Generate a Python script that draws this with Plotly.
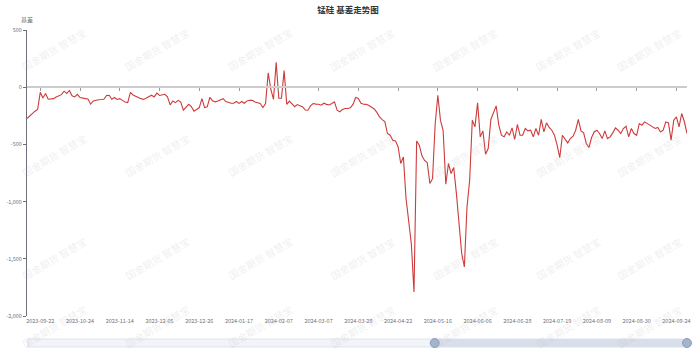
import pandas as pd
import plotly.graph_objects as go

# ---------------- data ----------------
start_date = "2023-09-15"
end_date = "2024-09-30"
holidays = ["2023-09-29", "2023-10-02", "2023-10-03", "2023-10-04", "2023-10-05", "2023-10-06",
            "2023-10-09",  # missing day in the source data
            "2024-01-01", "2024-02-09", "2024-02-12", "2024-02-13", "2024-02-14", "2024-02-15",
            "2024-02-16", "2024-04-04", "2024-04-05", "2024-05-01", "2024-05-02", "2024-05-03",
            "2024-06-10", "2024-09-16", "2024-09-17"]
dates = [d.strftime("%Y-%m-%d") for d in pd.bdate_range(start_date, end_date)
         if d.strftime("%Y-%m-%d") not in holidays]

basis = [
    -274, -250, -230, -210, -195, -45, -95, -55, -105, -105,
    -100, -85, -75, -65, -35, -55, -28, -75, -85, -62,
    -90, -98, -100, -103, -148, -120, -112, -110, -108, -105,
    -72, -70, -105, -90, -107, -100, -115, -130, -134, -45,
    -68, -80, -90, -100, -107, -95, -82, -70, -85, -52,
    -72, -67, -62, -85, -155, -120, -135, -115, -130, -200,
    -170, -150, -170, -210, -195, -178, -100, -178, -172, -88,
    -118, -128, -120, -112, -100, -125, -133, -140, -140, -125,
    -142, -125, -140, -120, -114, -115, -130, -137, -143, -178,
    -143, 125, -20, -107, 218, -97, -97, 145, -150, -122,
    -143, -170, -152, -165, -172, -200, -201, -160, -143, -148,
    -149, -157, -140, -150, -155, -143, -128, -200, -216, -195,
    -186, -186, -180, -150, -90, -99, -140, -149, -150, -160,
    -172, -190, -220, -260, -283, -300, -405, -420, -463, -469,
    -520, -667, -610, -973, -1170, -1370, -1790, -470, -507, -600,
    -640, -660, -842, -800, -320, -70, -290, -380, -848, -667,
    -755, -702, -930, -1221, -1454, -1571, -1046, -813, -288, -347,
    -137, -434, -382, -586, -536, -282, -230, -163, -332, -420,
    -434, -391, -420, -356, -457, -326, -420, -420, -361, -382,
    -376, -434, -361, -420, -282, -391, -312, -352, -376, -420,
    -507, -615, -420, -449, -487, -449, -428, -376, -282, -382,
    -399, -492, -527, -440, -391, -376, -405, -449, -382, -449,
    -434, -399, -356, -376, -405, -361, -341, -434, -361, -405,
    -420, -318, -332, -303, -318, -332, -347, -361, -352, -391,
    -376, -303, -312, -463, -288, -260, -347, -230, -300, -405,
]

x_tick_labels = ["2023-09-22", "2023-10-24", "2023-11-14", "2023-12-05", "2023-12-26",
                 "2024-01-17", "2024-02-07", "2024-03-07", "2024-03-28", "2024-04-22",
                 "2024-05-16", "2024-06-06", "2024-06-28", "2024-07-19", "2024-08-09",
                 "2024-08-30", "2024-09-24"]
y_tick_values = [-2000, -1500, -1000, -500, 0, 500]
y_tick_labels = ["-2,000", "-1,500", "-1,000", "-500", "0", "500"]

title_text = "锰硅 基差走势图"
y_name = "基差"
watermark = "国金期货 智慧宝"

# ---------------- layout helpers ----------------
W, H = 696, 352
L, R, T, B = 23, 6, 30, 36
PW, PH = W - L - R, H - T - B
FONT = "Noto Sans CJK SC, Noto Sans, sans-serif"


def px(xp):
    return (xp - L) / PW


def py(yp):
    return (H - B - yp) / PH


n = min(len(dates), len(basis))
dates = dates[:n]
basis = basis[:n]

fig = go.Figure()
fig.add_trace(go.Scatter(x=dates, y=basis, mode="lines",
                         line=dict(color="#cf3a3a", width=1.1),
                         showlegend=False, hoverinfo="x+y"))
# helper trace to carry the zero axis line with ticks
fig.add_trace(go.Scatter(x=dates, y=[None] * n, mode="lines", xaxis="x2",
                         showlegend=False, hoverinfo="skip"))

annotations = []
annotations.append(dict(text=y_name, x=0, y=py(20), xref="paper", yref="paper",
                        showarrow=False, xanchor="center", yanchor="middle",
                        font=dict(size=6, color="#6E7079", family=FONT)))
# watermarks (kept fully inside the canvas)
wm_rows = [50, 155, 258, 326]
wm_cols = [50, 154, 258, 362, 466, 570, 652]
for ry in wm_rows:
    for cx in wm_cols:
        annotations.append(dict(text=watermark, x=px(cx), y=py(ry), xref="paper", yref="paper",
                                showarrow=False, textangle=-30, xanchor="center", yanchor="middle",
                                font=dict(size=10, color="rgba(170,170,170,0.2)", family=FONT)))

shapes = []
# data zoom slider
shapes.append(dict(type="rect", xref="paper", yref="paper", x0=px(24), x1=px(690),
                   y0=py(347), y1=py(339), fillcolor="#f2f4f8",
                   line=dict(color="#dde3ee", width=1), layer="below"))
shapes.append(dict(type="rect", xref="paper", yref="paper", x0=px(435), x1=px(690),
                   y0=py(347), y1=py(339), fillcolor="#d8dfeb",
                   line=dict(width=0)))
for hx in [435, 690]:
    shapes.append(dict(type="circle", xref="paper", yref="paper",
                       x0=px(hx - 4.5), x1=px(hx + 4.5), y0=py(343 + 4.5), y1=py(343 - 4.5),
                       fillcolor="#a5b4cc", line=dict(color="#8b9dba", width=1)))

fig.update_layout(
    width=W, height=H,
    margin=dict(l=L, r=R, t=T, b=B),
    paper_bgcolor="white", plot_bgcolor="white",
    title=dict(text="<b>" + title_text + "</b>", x=0.5, xref="container", xanchor="center",
               y=1 - 10 / H, yref="container", yanchor="middle",
               font=dict(size=8.5, color="#333333", family=FONT)),
    xaxis=dict(type="category", range=[0, n - 1], showgrid=False, zeroline=False,
               showline=False, ticks="", tickmode="array", tickvals=x_tick_labels,
               ticktext=x_tick_labels, tickangle=0,
               tickfont=dict(size=5.5, color="#6E7079", family=FONT)),
    xaxis2=dict(type="category", matches="x", overlaying="x", anchor="free", position=0.8,
                showgrid=False, zeroline=False, showline=True, linecolor="#cccccc", linewidth=2,
                ticks="outside", ticklen=3, tickcolor="#9a9a9a", tickwidth=1,
                tickmode="array", tickvals=x_tick_labels, showticklabels=False),
    yaxis=dict(range=[-2000, 500], showgrid=False, zeroline=False, showline=True,
               linecolor="#6E7079", linewidth=1, ticks="outside", ticklen=3,
               tickcolor="#6E7079", tickmode="array", tickvals=y_tick_values,
               ticktext=y_tick_labels,
               tickfont=dict(size=5.5, color="#6E7079", family=FONT)),
    annotations=annotations,
    shapes=shapes,
    hovermode="x",
)

fig.write_html("out.html")
